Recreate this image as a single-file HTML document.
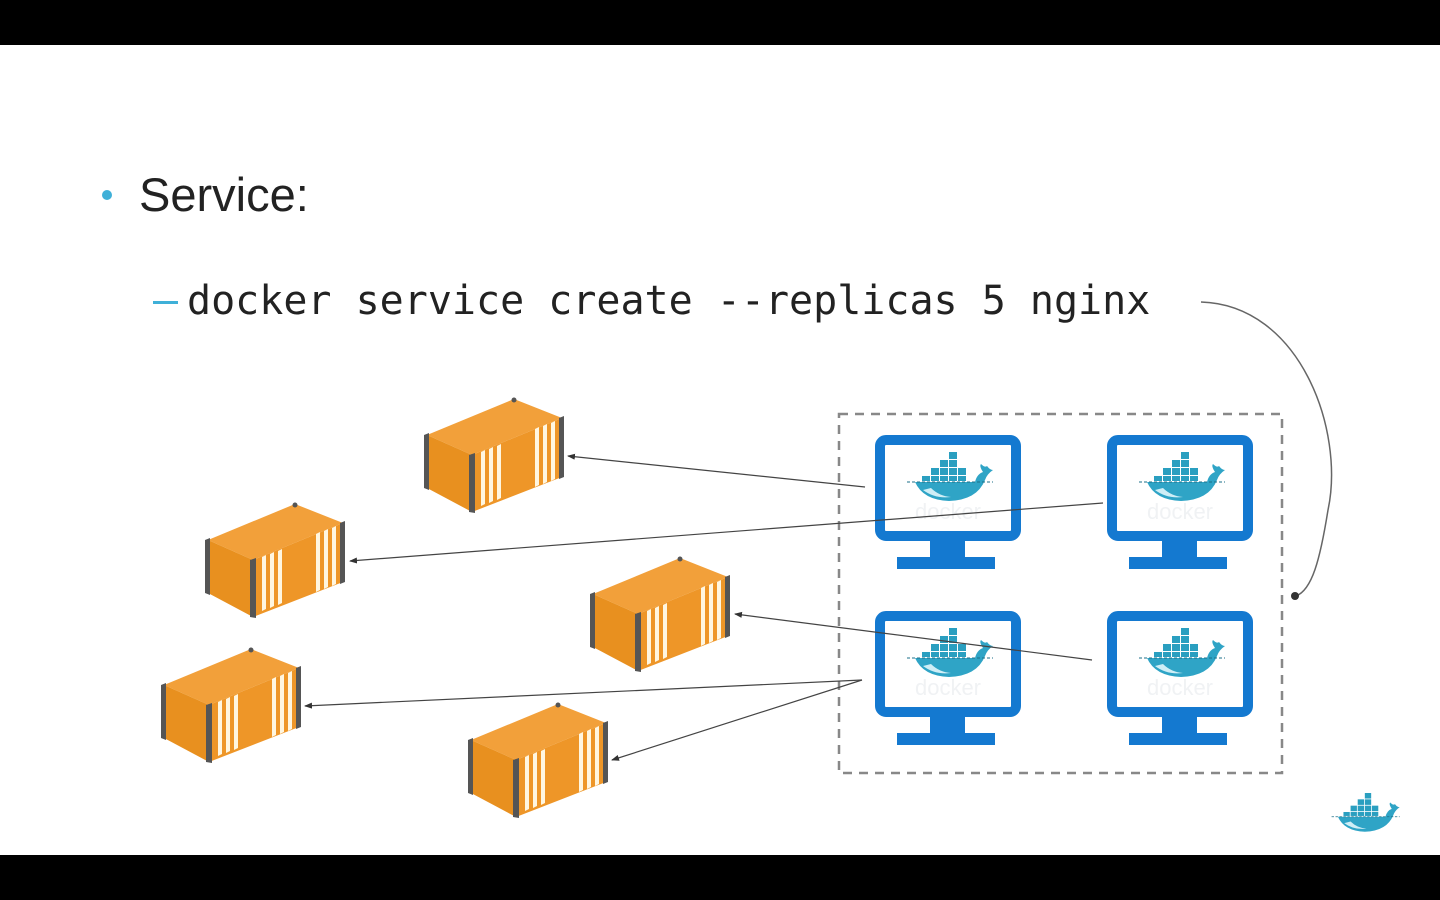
<!DOCTYPE html>
<html><head><meta charset="utf-8"><style>
html,body{margin:0;padding:0;background:#000;}
body{width:1440px;height:900px;overflow:hidden;position:relative;}
</style></head><body>
<svg width="1440" height="900" viewBox="0 0 1440 900" xmlns="http://www.w3.org/2000/svg" style="position:absolute;left:0;top:0">
<defs>
<symbol id="whale" viewBox="0 0 80 48" overflow="visible">
  <g fill="#2a9fc0">
    <rect x="18" y="16" width="8" height="7"/><rect x="27" y="16" width="8" height="7"/><rect x="36" y="16" width="8" height="7"/><rect x="45" y="16" width="8" height="7"/>
    <rect x="27" y="8" width="8" height="7"/><rect x="36" y="8" width="8" height="7"/>
    <rect x="36" y="0" width="8" height="7"/>
    <rect x="9" y="24" width="8" height="5"/><rect x="18" y="24" width="8" height="5"/><rect x="27" y="24" width="8" height="5"/><rect x="36" y="24" width="8" height="5"/><rect x="45" y="24" width="8" height="5"/>
  </g>
  <path d="M2,30 L62,30 Q64,22 70,20 Q66,14 68,12 Q72,16 74,14 Q77,18 80,18 Q74,22 72,28 Q64,48 36,49 Q10,48 2,30 Z" fill="#2fa4c6"/>
  <path d="M10,38 Q22,47 38,45 Q26,44 18,36 Z" fill="#cfeef6"/>
  <line x1="-6" y1="30" x2="80" y2="30" stroke="#1b6f88" stroke-width="1" stroke-dasharray="3,2"/>
</symbol>
<g id="cont">
  <polygon points="4,37 91,1 139,20 49,57" fill="#f2a03a"/>
  <polygon points="4,37 49,57 49,114 4,90" fill="#e8901f"/>
  <polygon points="49,57 139,20 139,79 49,114" fill="#ee9628"/>
  <g fill="#fff6e0">
    <polygon points="58,54 62,52 62,106 58,108"/><polygon points="66,51 70,49 70,103 66,105"/><polygon points="74,48 78,46 78,100 74,102"/>
    <polygon points="112,31 116,29 116,87 112,89"/><polygon points="120,28 124,26 124,84 120,86"/><polygon points="128,25 132,23 132,81 128,83"/>
  </g>
  <polygon points="1,37 6,35 6,92 1,90" fill="#555"/>
  <polygon points="46,57 52,55 52,115 46,114" fill="#555"/>
  <polygon points="136,20 141,18 141,79 136,81" fill="#555"/>
  <circle cx="91" cy="2" r="2.5" fill="#555"/>
</g>
<g id="mon">
  <rect x="5" y="5" width="136" height="96" rx="6" fill="none" stroke="#1479d0" stroke-width="10"/>
  <rect x="55" y="103" width="35" height="20" fill="#1479d0"/>
  <rect x="22" y="122" width="98" height="12" fill="#1479d0"/>
  <use href="#whale" x="38" y="16" width="80" height="50"/>
  <text x="73" y="84" font-family="Liberation Sans, sans-serif" font-size="22" fill="#f0f2f4" text-anchor="middle">docker</text>
</g>
<marker id="ah" markerWidth="8" markerHeight="8" refX="7" refY="4" orient="auto" markerUnits="userSpaceOnUse"><path d="M0,1 L8,4 L0,7 Z" fill="#333"/></marker>
</defs>
<rect x="0" y="45" width="1440" height="810" fill="#fff"/>
<circle cx="107" cy="195" r="5" fill="#3fb0d8"/>
<text x="139" y="211" font-family="Liberation Sans, sans-serif" font-size="47" fill="#222">Service:</text>
<rect x="153" y="301" width="25" height="3" fill="#3fb0d8"/>
<text x="187" y="314" font-family="DejaVu Sans Mono, monospace" font-size="40" fill="#222">docker service create --replicas 5 nginx</text>
<path d="M1201,302 C1300,305 1345,430 1328,510 C1320,560 1312,590 1296,596" fill="none" stroke="#666" stroke-width="1.5"/>
<circle cx="1295" cy="596" r="4" fill="#333"/>
<rect x="839" y="414" width="443" height="359" fill="none" stroke="#888" stroke-width="2.5" stroke-dasharray="9,7"/>
<use href="#cont" x="423" y="398"/>
<use href="#cont" x="204" y="503"/>
<use href="#cont" x="589" y="557"/>
<use href="#cont" x="160" y="648"/>
<use href="#cont" x="467" y="703"/>
<use href="#mon" x="875" y="435"/>
<use href="#mon" x="1107" y="435"/>
<use href="#mon" x="875" y="611"/>
<use href="#mon" x="1107" y="611"/>
<g stroke="#444" stroke-width="1.2" fill="none" marker-end="url(#ah)">
<line x1="865" y1="487" x2="568" y2="456"/>
<line x1="1103" y1="503" x2="350" y2="561"/>
<line x1="1092" y1="660" x2="735" y2="614"/>
<line x1="862" y1="680" x2="305" y2="706"/>
<line x1="862" y1="680" x2="612" y2="760"/>
</g>
<use href="#whale" x="1336" y="793" width="64" height="38"/>
</svg>
</body></html>
